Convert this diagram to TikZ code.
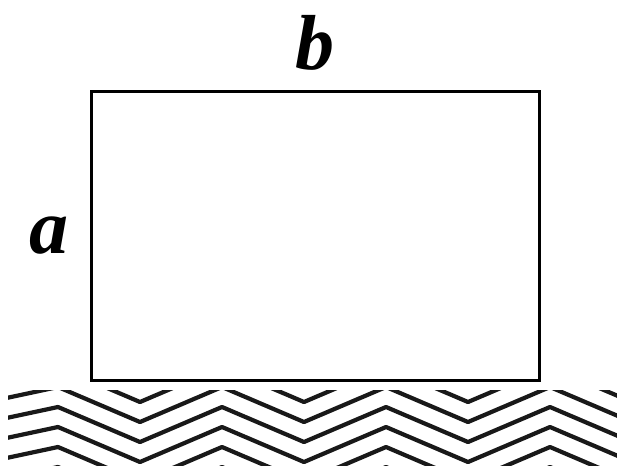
\documentclass[tikz,border=0pt]{standalone}
\usepackage{fontspec}
\setmainfont{Liberation Serif}
\begin{document}
\begin{tikzpicture}[x=1pt,y=-1pt,
  edge/.style={draw=black,line width=3pt,line join=miter},
  zig/.style={draw=black!90,line width=4.2pt,line join=round},
  lbl/.style={font=\fontsize{78}{78}\selectfont\bfseries\itshape,inner sep=0pt,anchor=base}]
\useasboundingbox (0,0) rectangle (617,465);
\node[edge,minimum width=448pt,minimum height=289pt,inner sep=0pt,anchor=north west] (r) at (90,90) {};
\node[lbl] (b) at (315,70) {b};
\node[lbl] (a) at (49,253) {a};
\begin{scope}
  \clip (8,390) rectangle (617,465);
  \foreach \y in {327,347,...,487}{
    \draw[zig] (-106,{\y+35}) \foreach \j in {0,...,4}{ -- ({58+164*\j},\y) -- ({140+164*\j},{\y+35}) };
  }
\end{scope}
\end{tikzpicture}
\end{document}
